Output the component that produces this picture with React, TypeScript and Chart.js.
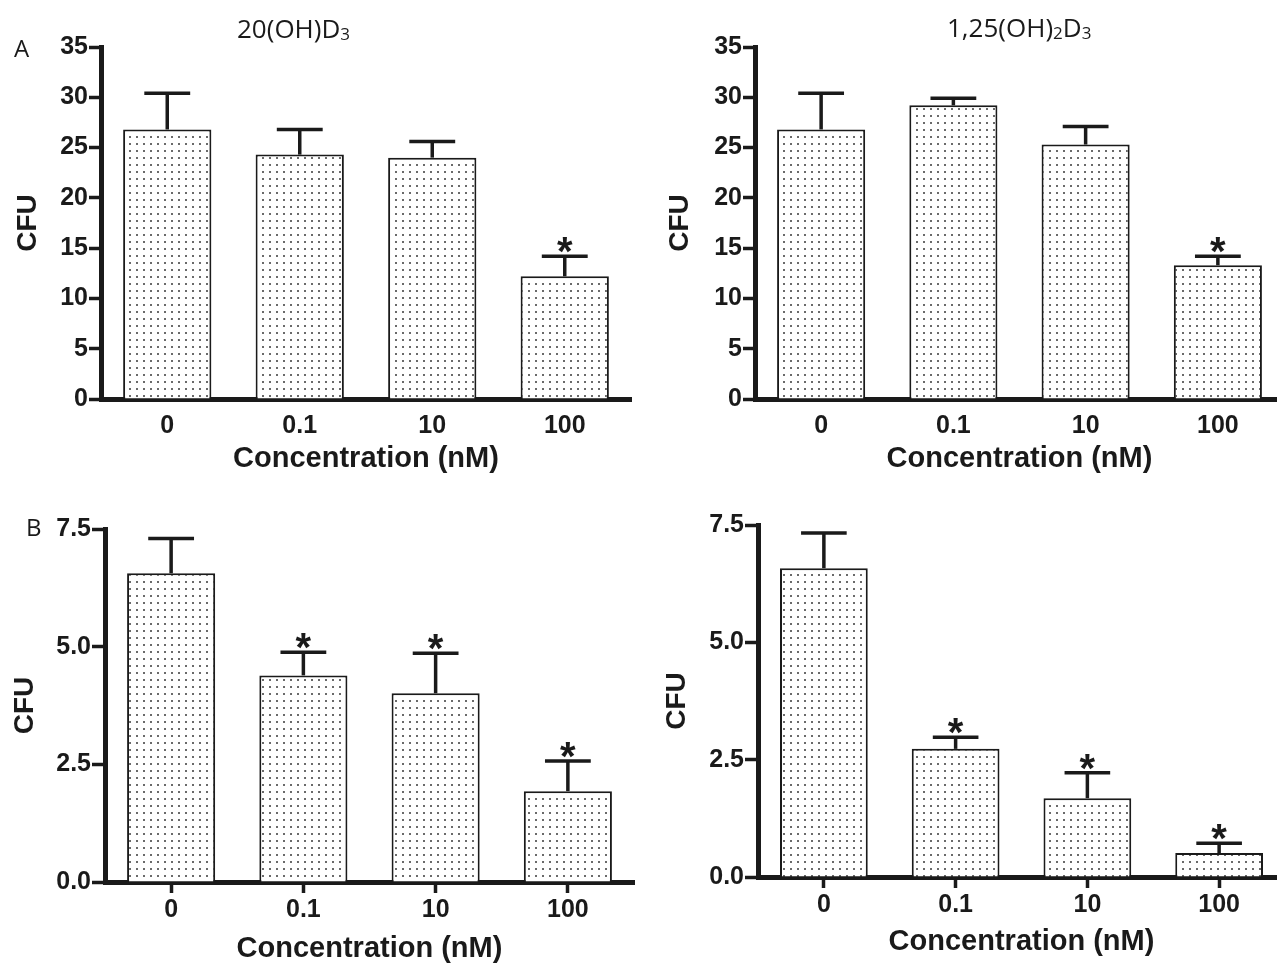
import React, { useEffect, useRef } from 'react';
import { Chart, registerables } from 'chart.js';

Chart.register(...registerables);

// ---------- data ----------
const categories = ['0', '0.1', '10', '100'];

// Panel A, 20(OH)D3
const a20Means = [26.8, 24.3, 24.0, 12.2];
const a20Sem = [3.6, 2.5, 1.6, 2.0];
const a20Sig = [false, false, false, true];

// Panel A, 1,25(OH)2D3
const a125Means = [26.8, 29.2, 25.3, 13.3];
const a125Sem = [3.6, 0.7, 1.8, 0.9];
const a125Sig = [false, false, false, true];

// Panel B, 20(OH)D3
const b20Means = [6.56, 4.39, 4.01, 1.93];
const b20Sem = [0.74, 0.49, 0.85, 0.64];
const b20Sig = [false, true, true, true];

// Panel B, 1,25(OH)2D3
const b125Means = [6.58, 2.73, 1.68, 0.51];
const b125Sem = [0.75, 0.25, 0.54, 0.21];
const b125Sig = [false, true, true, true];

const aYTicks = [0, 5, 10, 15, 20, 25, 30, 35];
const bYTicks = [0, 2.5, 5, 7.5];

const xTitle = 'Concentration (nM)';
const yTitle = 'CFU';

// ---------- styling ----------
const INK = '#1a1a1a';
const BOLD = '"Liberation Sans", Arial, Helvetica, sans-serif';
const LIGHT = '"Open Sans", "Noto Sans", sans-serif';

type Part = { text: string; sub?: boolean };
type Label = { parts: Part[]; x: number; y: number; size: number };

type Panel = {
  key: string;
  left: number;
  top: number;
  viewW: number;
  viewH: number;
  canvasW: number;
  canvasH: number;
  area: { l: number; t: number; r: number; b: number };
  means: number[];
  sem: number[];
  sig: boolean[];
  yMax: number;
  yTicks: number[];
  decimals: number;
  xTickMarks: boolean;
  yTickLen: number;
  xTickPad: number;
  xTitlePad: number;
  yTitlePad: number;
  labels: Label[];
};

const panels: Panel[] = [
  {
    key: 'a20',
    left: 0, top: 0, viewW: 640, viewH: 480, canvasW: 640, canvasH: 480,
    area: { l: 101, t: 47, r: 631, b: 399 },
    means: a20Means, sem: a20Sem, sig: a20Sig,
    yMax: 35, yTicks: aYTicks, decimals: 0,
    xTickMarks: false, yTickLen: 12, xTickPad: 15, xTitlePad: 7, yTitlePad: 14,
    labels: [
      { parts: [{ text: 'A' }], x: 14, y: 57, size: 24 },
      { parts: [{ text: '20(OH)D' }, { text: '3', sub: true }], x: 237, y: 38, size: 26 },
    ],
  },
  {
    key: 'a125',
    left: 640, top: 0, viewW: 637, viewH: 480, canvasW: 660, canvasH: 480,
    area: { l: 115, t: 47, r: 644, b: 399 },
    means: a125Means, sem: a125Sem, sig: a125Sig,
    yMax: 35, yTicks: aYTicks, decimals: 0,
    xTickMarks: false, yTickLen: 12, xTickPad: 15, xTitlePad: 7, yTitlePad: 26,
    labels: [
      { parts: [{ text: '1,25(OH)' }, { text: '2', sub: true }, { text: 'D' }, { text: '3', sub: true }], x: 307, y: 37, size: 26 },
    ],
  },
  {
    key: 'b20',
    left: 0, top: 480, viewW: 640, viewH: 484, canvasW: 640, canvasH: 500,
    area: { l: 105, t: 49, r: 634, b: 402 },
    means: b20Means, sem: b20Sem, sig: b20Sig,
    yMax: 7.5, yTicks: bYTicks, decimals: 1,
    xTickMarks: true, yTickLen: 13, xTickPad: 4.5, xTitlePad: 16.5, yTitlePad: 11,
    labels: [{ parts: [{ text: 'B' }], x: 26, y: 56, size: 24 }],
  },
  {
    key: 'b125',
    left: 640, top: 480, viewW: 637, viewH: 484, canvasW: 660, canvasH: 500,
    area: { l: 118, t: 45, r: 645, b: 397 },
    means: b125Means, sem: b125Sem, sig: b125Sig,
    yMax: 7.5, yTicks: bYTicks, decimals: 1,
    xTickMarks: true, yTickLen: 13, xTickPad: 4.5, xTitlePad: 24, yTitlePad: 23,
    labels: [],
  },
];

function makeDotPattern(): CanvasPattern | string {
  const c = document.createElement('canvas');
  c.width = 7;
  c.height = 7;
  const g = c.getContext('2d');
  if (!g) return '#eeeeee';
  g.fillStyle = '#ffffff';
  g.fillRect(0, 0, 7, 7);
  g.fillStyle = '#6a6a6a';
  g.fillRect(3, 3, 2, 2);
  return g.createPattern(c, 'repeat') || '#eeeeee';
}

function PanelChart({ p }: { p: Panel }) {
  const ref = useRef<HTMLCanvasElement | null>(null);

  useEffect(() => {
    const canvas = ref.current;
    if (!canvas) return;

    const errorPlugin = {
      id: 'errorBars_' + p.key,
      afterDatasetsDraw(chart: any) {
        const ctx = chart.ctx;
        const yScale = chart.scales.y;
        const meta = chart.getDatasetMeta(0);
        ctx.save();
        ctx.strokeStyle = INK;
        ctx.fillStyle = INK;
        ctx.lineWidth = 3.5;
        ctx.lineCap = 'butt';
        meta.data.forEach((bar: any, i: number) => {
          const { x, y, width } = bar.getProps(['x', 'y', 'width'], true);
          const yErr = yScale.getPixelForValue(p.means[i] + p.sem[i]);
          const half = width * 0.26;
          ctx.beginPath();
          ctx.moveTo(x, y);
          ctx.lineTo(x, yErr);
          ctx.stroke();
          ctx.beginPath();
          ctx.moveTo(x - half, yErr);
          ctx.lineTo(x + half, yErr);
          ctx.stroke();
          if (p.sig[i]) {
            ctx.font = `bold 40px ${BOLD}`;
            ctx.textAlign = 'center';
            ctx.textBaseline = 'alphabetic';
            ctx.fillText('*', x, yErr + 9);
          }
        });
        ctx.restore();
      },
    };

    const labelPlugin = {
      id: 'labels_' + p.key,
      afterDraw(chart: any) {
        const ctx = chart.ctx;
        ctx.save();
        ctx.fillStyle = INK;
        ctx.textAlign = 'left';
        ctx.textBaseline = 'alphabetic';
        p.labels.forEach((lab) => {
          let cx = lab.x;
          lab.parts.forEach((part) => {
            const size = part.sub ? Math.round(lab.size * 0.66) : lab.size;
            ctx.font = `${size}px ${LIGHT}`;
            const dy = part.sub ? Math.round(lab.size * 0.08) : 0;
            ctx.fillText(part.text, cx, lab.y + dy);
            cx += ctx.measureText(part.text).width;
          });
        });
        ctx.restore();
      },
    };

    const fmt = (v: any) => (p.decimals ? Number(v).toFixed(p.decimals) : String(v));

    const chart = new Chart(canvas, {
      type: 'bar',
      data: {
        labels: categories,
        datasets: [
          {
            data: p.means,
            backgroundColor: makeDotPattern() as any,
            borderColor: INK,
            borderWidth: 2,
            borderSkipped: 'start',
            barPercentage: 0.666,
            categoryPercentage: 1,
          },
        ],
      },
      options: {
        animation: false,
        responsive: false,
        maintainAspectRatio: false,
        devicePixelRatio: 1,
        events: [],
        layout: {
          padding: { left: 0, top: p.area.t, right: p.canvasW - p.area.r, bottom: 0 },
        },
        plugins: {
          legend: { display: false },
          tooltip: { enabled: false },
          title: { display: false },
        },
        scales: {
          x: {
            type: 'category',
            offset: true,
            z: 1,
            grid: {
              display: true,
              drawOnChartArea: false,
              drawTicks: p.xTickMarks,
              tickLength: 11,
              tickWidth: 3.5,
              tickColor: INK,
              color: INK,
              offset: false,
            },
            border: { display: true, width: 5, color: INK },
            ticks: {
              color: INK,
              font: { family: BOLD, size: 25, weight: 'bold', lineHeight: 1 },
              padding: p.xTickPad,
              maxRotation: 0,
              minRotation: 0,
              autoSkip: false,
            },
            title: {
              display: true,
              text: xTitle,
              color: INK,
              font: { family: BOLD, size: 29, weight: 'bold', lineHeight: 1 },
              padding: { top: 0, bottom: p.xTitlePad },
            },
            afterFit: (s: any) => {
              s.height = p.canvasH - p.area.b;
            },
          },
          y: {
            type: 'linear',
            min: 0,
            max: p.yMax,
            z: 1,
            afterBuildTicks: (s: any) => {
              s.ticks = p.yTicks.map((v) => ({ value: v }));
            },
            grid: {
              display: true,
              drawOnChartArea: false,
              drawTicks: true,
              tickLength: p.yTickLen,
              tickWidth: 3.5,
              tickColor: INK,
              color: INK,
            },
            border: { display: true, width: 5, color: INK },
            ticks: {
              color: INK,
              font: { family: BOLD, size: 25, weight: 'bold', lineHeight: 1 },
              padding: 1,
              callback: fmt,
            },
            title: {
              display: true,
              text: yTitle,
              color: INK,
              font: { family: BOLD, size: 28, weight: 'bold', lineHeight: 1 },
              padding: { top: p.yTitlePad, bottom: 0 },
            },
            afterFit: (s: any) => {
              s.width = p.area.l;
            },
          },
        },
      } as any,
      plugins: [errorPlugin, labelPlugin],
    });

    return () => {
      chart.destroy();
    };
  }, [p]);

  return (
    <div
      style={{
        position: 'absolute',
        left: p.left,
        top: p.top,
        width: p.viewW,
        height: p.viewH,
        overflow: 'hidden',
      }}
    >
      <canvas
        ref={ref}
        width={p.canvasW}
        height={p.canvasH}
        style={{ display: 'block', width: p.canvasW, height: p.canvasH }}
      />
    </div>
  );
}

export default function App() {
  return (
    <div
      style={{
        position: 'absolute',
        left: 0,
        top: 0,
        width: 1277,
        height: 964,
        overflow: 'hidden',
        background: '#ffffff',
      }}
    >
      {panels.map((p) => (
        <PanelChart key={p.key} p={p} />
      ))}
    </div>
  );
}
